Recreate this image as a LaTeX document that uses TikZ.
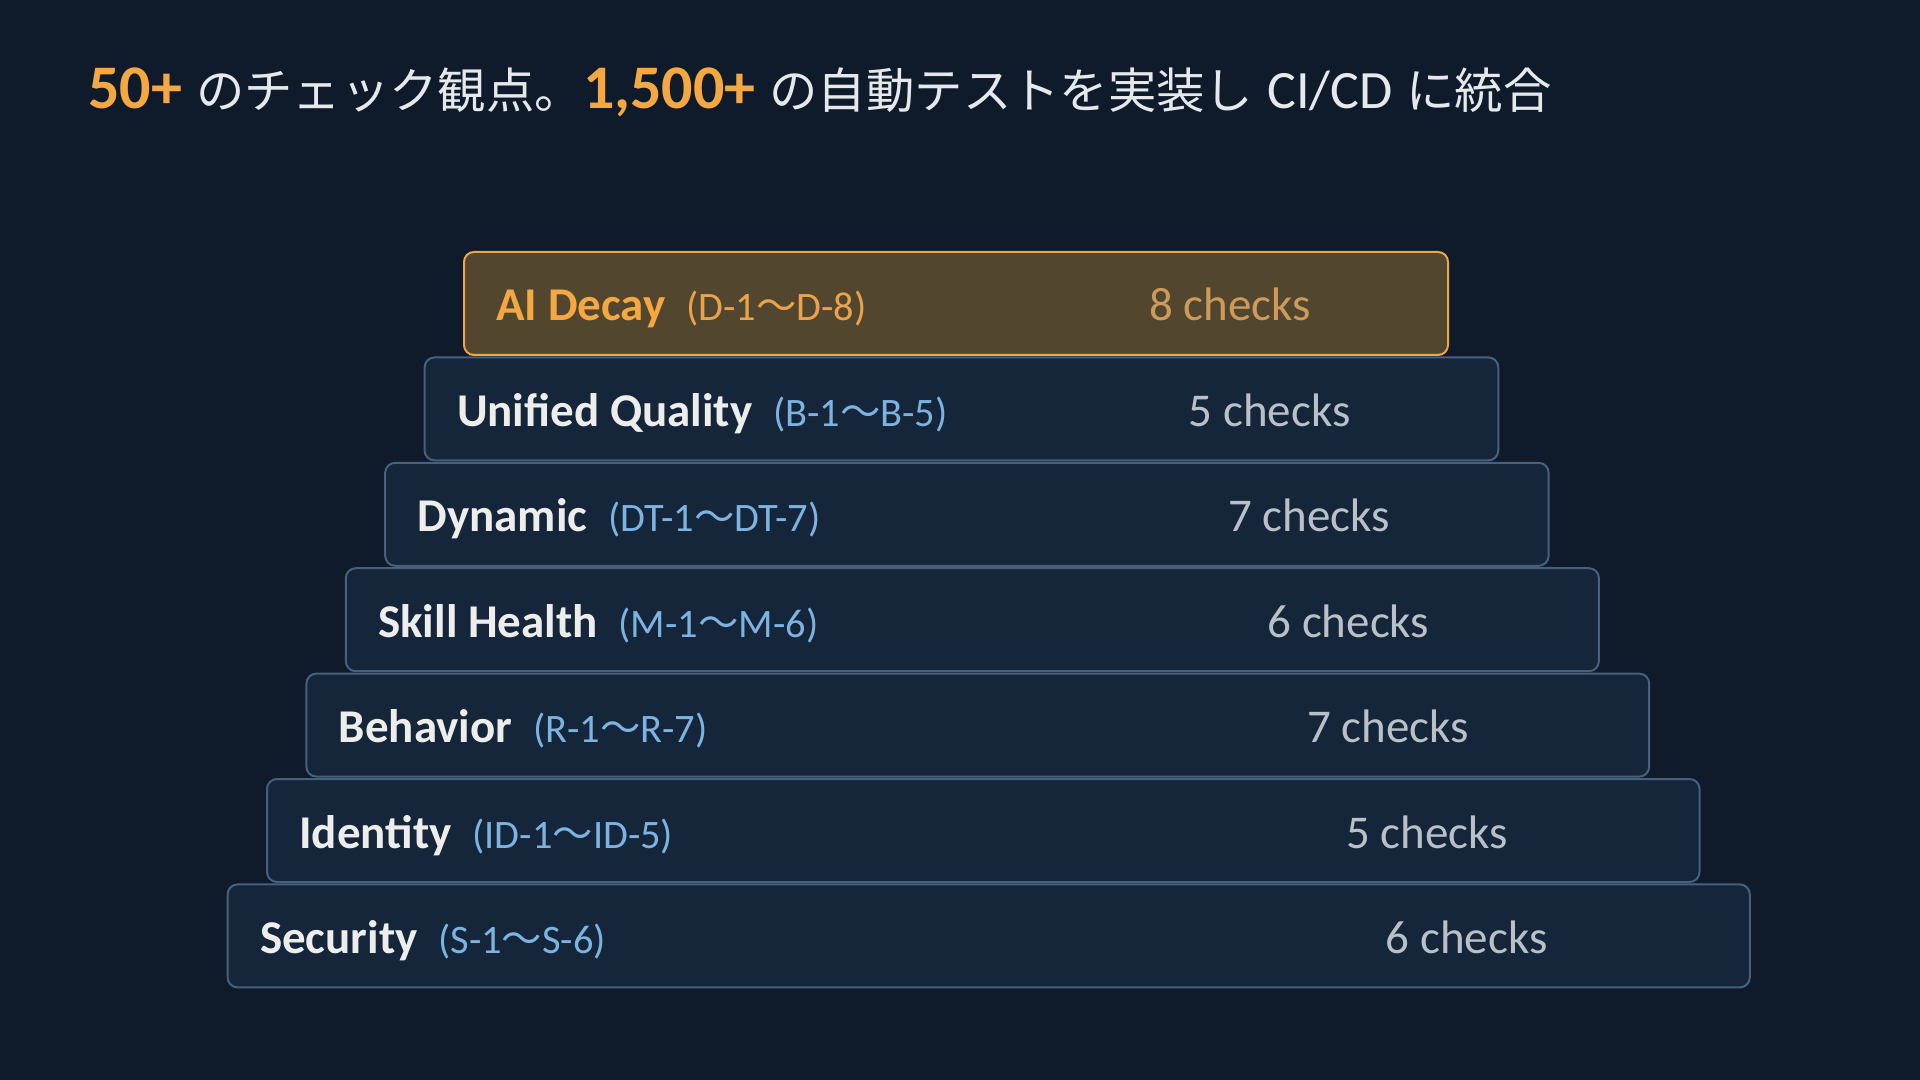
\documentclass[tikz,border=0pt]{standalone}
\usepackage{fontspec}
\setmainfont{Carlito}
\newfontfamily\cjk{Noto Sans CJK JP}
\newfontfamily\cjkt{Noto Sans CJK JP}[Scale=0.78]
\usetikzlibrary{positioning}

\definecolor{bg}{HTML}{0F1B2B}
\definecolor{hl}{HTML}{F5A742}
\definecolor{titletext}{HTML}{E6E9EC}
\definecolor{plainfill}{HTML}{15253A}
\definecolor{plainline}{HTML}{46607E}
\definecolor{plainname}{HTML}{EDEDEB}
\definecolor{plainrange}{HTML}{7DB3E0}
\definecolor{plainchk}{HTML}{B9C0C8}
\definecolor{decayfill}{HTML}{53462F}
\definecolor{decayline}{HTML}{EFA64A}
\definecolor{decayname}{HTML}{F5A742}
\definecolor{decayrange}{HTML}{EAA34A}
\definecolor{decaychk}{HTML}{CC9A5A}

\tikzset{
  tier/.style={draw=#1line, fill=#1fill, line width=1pt, rounded corners=5pt,
    inner sep=0, anchor=north west, minimum height=51.5pt},
  tiername/.style={text=#1name, anchor=base west, inner sep=0,
    font=\bfseries\fontsize{23.5}{28}\selectfont},
  tierrange/.style={text=#1range, anchor=base west, inner sep=0,
    font=\fontsize{20.2}{24}\selectfont},
  tierchk/.style={text=#1chk, anchor=base west, inner sep=0,
    font=\fontsize{23.5}{28}\selectfont},
}

\begin{document}
\begin{tikzpicture}[x=0.5pt, y=-0.5pt]
  \fill[bg] (0,0) rectangle (1920,1080);

  % headline
  \node[anchor=base west, inner sep=0, text=titletext, font=\fontsize{31}{37}\selectfont]
    (title) at (88,109)
    {{\bfseries\color{hl}50+} {\cjkt のチェック観点。}{\bfseries\color{hl}1,500+} {\cjkt の自動テストを実装し} {\fontsize{27}{32}\selectfont CI/CD} {\cjkt に統合}};

  % the tiers, top one first
  \foreach \i/\nm/\pre/\n/\lk in {0/AI Decay/D/8/decay, 1/Unified Quality/B/5/plain,
      2/Dynamic/DT/7/plain, 3/Skill Health/M/6/plain, 4/Behavior/R/7/plain,
      5/Identity/ID/5/plain, 6/Security/S/6/plain}
  {
    \pgfmathsetmacro\xl{463-39.4*\i}
    \pgfmathsetmacro\yt{251+105.4*\i}
    \pgfmathsetmacro\w{(984+89.7*\i)/2}
    \node[tier=\lk, minimum width=\w pt] (bar\i) at (\xl,\yt) {};
    \node[tiername=\lk] (name\i) at (\xl+33,\yt+70) {\nm};
    \node[tierrange=\lk] (rng\i) at ([xshift=10pt]name\i.base east) {(\pre-1{\cjk ～}\pre-\n)};
    \node[tierchk=\lk] (chk\i) at (1149+39.4*\i,\yt+70) {\n\ checks};
  }
\end{tikzpicture}
\end{document}
